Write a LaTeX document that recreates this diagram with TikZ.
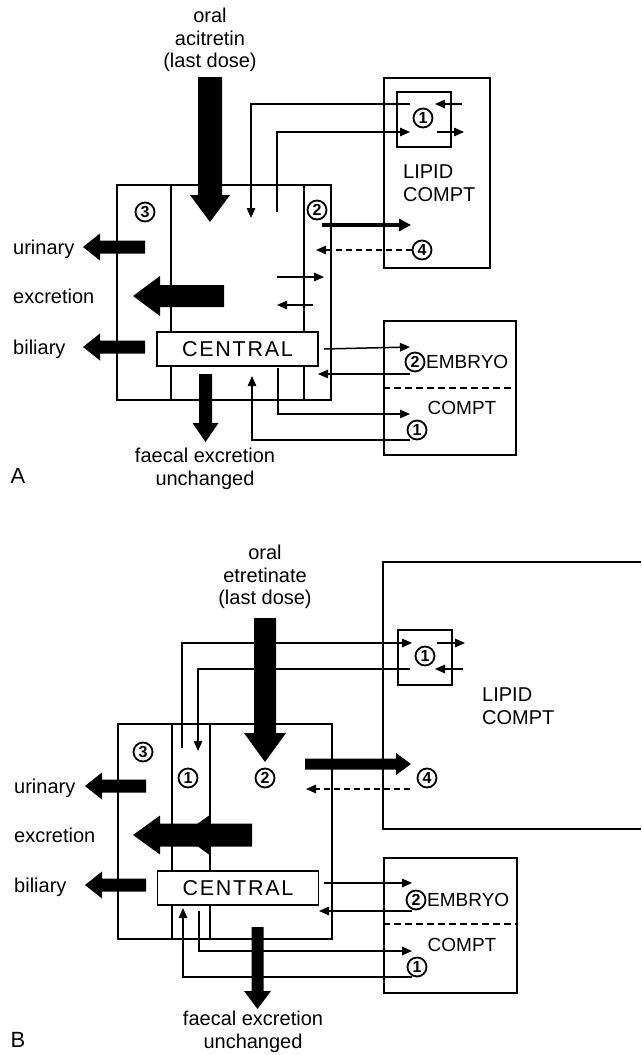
\documentclass[tikz,border=0pt]{standalone}
\usepackage{fontspec}
\setmainfont{Liberation Sans}
\usetikzlibrary{arrows.meta}
% fat filled arrows: tail, position, tip, shaft half width, head half width, head length
\newcommand\FatL[6]{\fill (#1,#2-#4) -- (#3+#6,#2-#4) -- (#3+#6,#2-#5) -- (#3,#2) -- (#3+#6,#2+#5) -- (#3+#6,#2+#4) -- (#1,#2+#4) -- cycle;}
\newcommand\FatR[6]{\fill (#1,#2-#4) -- (#3-#6,#2-#4) -- (#3-#6,#2-#5) -- (#3,#2) -- (#3-#6,#2+#5) -- (#3-#6,#2+#4) -- (#1,#2+#4) -- cycle;}
\newcommand\FatD[6]{\fill (#1-#4,#2) -- (#1-#4,#3-#6) -- (#1-#5,#3-#6) -- (#1,#3) -- (#1+#5,#3-#6) -- (#1+#4,#3-#6) -- (#1+#4,#2) -- cycle;}
\newcommand\HeadL[4]{\fill (#1,#2) -- (#1+#4,#2-#3) -- (#1+#4,#2+#3) -- cycle;}
\tikzset{
  box/.style={draw, line width=1.7pt, inner sep=0pt},
  frm/.style={line width=1.7pt},
  thin/.style={line width=1.5pt},
  tip/.style={-{Triangle[length=10pt,width=8.5pt]}},
  dsh/.style={line width=1.5pt, dash pattern=on 6pt off 4pt},
  num/.style={circle, draw, line width=1.8pt, minimum size=19pt, inner sep=0pt,
    font=\fontsize{16}{16}\selectfont\bfseries},
  lbl/.style={font=\fontsize{20}{22}\selectfont, inner sep=0pt, text height=14.5pt, text depth=0pt},
  mlbl/.style={font=\fontsize{20}{22.5}\selectfont, inner sep=0pt},
  elbl/.style={font=\fontsize{19}{19}\selectfont, inner sep=0pt, text height=13.8pt, text depth=0pt},
  centr/.style={draw, fill=white, line width=1.7pt, minimum width=161pt, minimum height=34pt, inner sep=0pt,
    font=\fontsize{21.5}{21.5}\selectfont\addfontfeature{LetterSpace=8}},
  panel/.style={font=\fontsize{22}{22}\selectfont, inner sep=0pt}
}
\begin{document}
\begin{tikzpicture}[x=1pt,y=-1pt]
\useasboundingbox (0,0) rectangle (641,1055);

%%%%%%%%%%%%%%%%%%%%%%%% PANEL A %%%%%%%%%%%%%%%%%%%%%%%%
\node[mlbl, align=center] (oralA) at (210,40) {oral\\acitretin\\(last dose)};
\FatD{210}{77}{222}{12}{20}{27}

% central compartment frame
\node[box, minimum width=214pt, minimum height=215pt, anchor=north west] (frameA) at (116,184) {};
\draw[frm] (171,184) -- (171,399);
\draw[frm] (304,184) -- (304,399);

% lipid compartment
\node[box, minimum width=106pt, minimum height=190pt, anchor=north west] (lipidA) at (383,77) {};
\node[box, minimum width=54pt, minimum height=55pt, anchor=north west] (smallA) at (396,91) {};
\node[num] (l1A) at (423,118) {1};
\node[mlbl, align=left, anchor=west] (liptA) at (403,183) {LIPID\\COMPT};

% embryo compartment
\node[box, minimum width=132pt, minimum height=134pt, anchor=north west] (embA) at (383,320) {};
\draw[line width=1.5pt, dash pattern=on 7pt off 4pt] (embA.west |- 0,388) -- (embA.east |- 0,388);
\node[num] (e2A) at (415,362) {2};
\node[elbl, anchor=west] (embtA) at (426,362) {EMBRYO};
\node[elbl] (comptA) at (462,408) {COMPT};
\node[num] (e1A) at (417,430) {1};

% numbers
\node[num] (n3A) at (145,212) {3};
\node[num] (n2A) at (317,210) {2};
\node[num] (n4A) at (422,250) {4};

% excretion arrows
\FatL{145}{247}{83}{6.5}{13.5}{17}
\FatL{224}{296}{133}{11}{20}{27}
\FatL{145}{347}{83}{6.5}{13.5}{17}
\node[lbl, anchor=west] (urA) at (13,247) {urinary};
\node[lbl, anchor=west] (exA) at (13,296) {excretion};
\node[lbl, anchor=west] (biA) at (13,347) {biliary};

\node[centr] (centralA) at (237.5,349) {CENTRAL};

% faecal
\FatD{205.5}{374}{442}{6.5}{13}{19}
\node[mlbl, align=center] (faeA) at (205,469) {faecal excretion\\unchanged};
\node[panel] (labA) at (18,476) {A};

% connectors panel A
\coordinate (a1s) at (410,104); \coordinate (a1e) at (251,218);
\draw[thin,tip] (a1s) -| (a1e);
\coordinate (a2s) at (277,212); \coordinate (a2e) at (410,132);
\draw[thin,tip] (a2s) |- (a2e);
\coordinate (a3s) at (462,104); \coordinate (a3e) at (435,104);
\draw[thin,tip] (a3s) -- (a3e);
\coordinate (a4s) at (437,132); \coordinate (a4e) at (464,132);
\draw[thin,tip] (a4s) -- (a4e);
\coordinate (a5s) at (322,225); \coordinate (a5e) at (411,225);
\draw[line width=3.8pt, -{Triangle[length=12pt,width=12pt]}] (a5s) -- (a5e);
\coordinate (a6e) at (316,250);
\draw[dsh,tip] (n4A.west) -- (a6e);
\coordinate (a7s) at (277,277); \coordinate (a7e) at (324,277);
\draw[thin,tip] (a7s) -- (a7e);
\coordinate (a8s) at (313,305); \coordinate (a8e) at (277,305);
\draw[thin,tip] (a8s) -- (a8e);
\coordinate (a9e) at (410,347);
\draw[thin,tip] ([xshift=5pt]centralA.east) -- (a9e);
\coordinate (a10s) at (410,374); \coordinate (a10e) at (318,374);
\draw[thin,tip] (a10s) -- (a10e);
\coordinate (a11s) at (278,368); \coordinate (a11e) at (410,414);
\draw[thin,tip] (a11s) |- (a11e);
\coordinate (a12s) at (410,440); \coordinate (a12e) at (252,376);
\draw[thin,tip] (a12s) -| (a12e);

%%%%%%%%%%%%%%%%%%%%%%%% PANEL B %%%%%%%%%%%%%%%%%%%%%%%%
\node[mlbl, align=center] (oralB) at (265,577) {oral\\etretinate\\(last dose)};

% lipid compartment (open to the right)
\draw[frm] (641,562) -- (383,562) -- (383,829) -- (641,829);
\coordinate (lipidB) at (383,562);
\node[box, fill=white, minimum width=54pt, minimum height=55pt, anchor=north west] (smallB) at (397,629) {};
\node[num] (l1B) at (425,656) {1};
\node[mlbl, align=left, anchor=west] (liptB) at (482,706) {LIPID\\COMPT};

% central frame
\node[box, minimum width=214pt, minimum height=215pt, anchor=north west] (frameB) at (117,723) {};
\draw[frm] (172,723) -- (172,938);
\draw[frm] (210,723) -- (210,938);

\FatD{265}{618}{762}{11}{21}{29}

% embryo compartment
\node[box, minimum width=133pt, minimum height=135pt, anchor=north west] (embB) at (383,857) {};
\draw[line width=1.5pt, dash pattern=on 7pt off 4pt] (embB.west |- 0,924) -- (embB.east |- 0,924);
\node[num] (e2B) at (416,900) {2};
\node[elbl, anchor=west] (embtB) at (427,900) {EMBRYO};
\node[elbl] (comptB) at (462,945) {COMPT};
\node[num] (e1B) at (417,967) {1};

% numbers
\node[num] (n3B) at (143,752) {3};
\node[num] (n1B) at (188,778) {1};
\node[num] (n2B) at (265,778) {2};
\node[num] (n4B) at (427,778) {4};

% excretion arrows
\FatL{146}{786}{85}{6.5}{13.5}{17}
\FatL{252}{835}{133}{11.5}{19.5}{27}
\HeadL{182}{835}{19.5}{27}
\FatL{146}{885}{85}{6.5}{13.5}{17}
\node[lbl, anchor=west] (urB) at (14,786) {urinary};
\node[lbl, anchor=west] (exB) at (14,835) {excretion};
\node[lbl, anchor=west] (biB) at (14,885) {biliary};

\node[centr] (centralB) at (238,888) {CENTRAL};

% faecal
\FatD{257.5}{927}{1009}{6}{13.5}{18}
\node[mlbl, align=center] (faeB) at (253,1032) {faecal excretion\\unchanged};
\node[panel] (labB) at (18,1040) {B};

% connectors panel B
\coordinate (b1s) at (182,748); \coordinate (b1e) at (412,643);
\draw[thin,tip] (b1s) |- (b1e);
\coordinate (b2s) at (410,669); \coordinate (b2e) at (198,751);
\draw[thin,tip] (b2s) -| (b2e);
\coordinate (b3s) at (437,643); \coordinate (b3e) at (465,643);
\draw[thin,tip] (b3s) -- (b3e);
\coordinate (b4s) at (463,669); \coordinate (b4e) at (435,669);
\draw[thin,tip] (b4s) -- (b4e);
\FatR{305}{764}{411}{5.5}{11}{15}
\coordinate (b6s) at (410,789); \coordinate (b6e) at (306,789);
\draw[dsh,tip] (b6s) -- (b6e);
\coordinate (b7e) at (412,883);
\draw[thin,tip] ([xshift=5pt]centralB.east |- 0,883) -- (b7e);
\coordinate (b8s) at (412,911); \coordinate (b8e) at (319,911);
\draw[thin,tip] (b8s) -- (b8e);
\coordinate (b9s) at (199,911); \coordinate (b9e) at (412,951);
\draw[thin,tip] (b9s) |- (b9e);
\coordinate (b10s) at (412,977); \coordinate (b10e) at (183,908);
\draw[thin,tip] (b10s) -| (b10e);
\end{tikzpicture}
\end{document}
